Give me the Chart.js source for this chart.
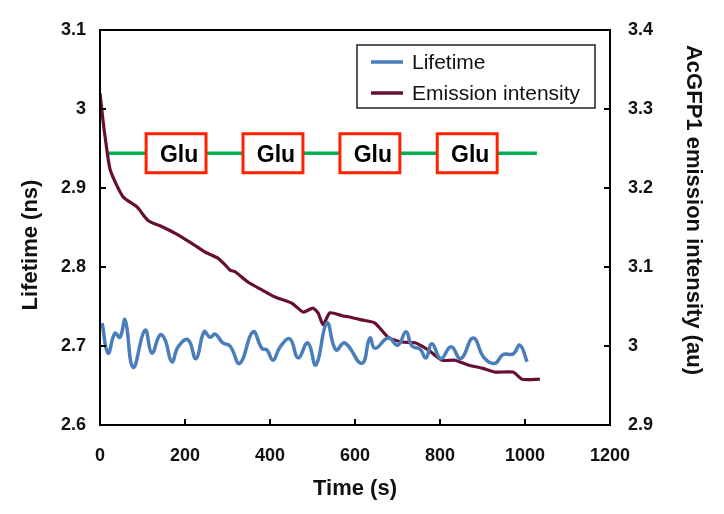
<!DOCTYPE html>
<html>
<head>
<meta charset="utf-8">
<script src="https://cdn.jsdelivr.net/npm/chart.js@4.4.1/dist/chart.umd.min.js"></script>
<style>
  html, body { margin: 0; padding: 0; background: #fff; }
  #wrap { width: 724px; height: 514px; position: relative; }
</style>
</head>
<body>
<div id="wrap"><canvas id="chart" width="724" height="514"></canvas></div>
<script>
// Lifetime (left axis, ns)
const lifetimeTime = [5, 19, 35, 47, 59, 78, 106, 122, 141, 153, 169, 184, 207, 226, 245, 259, 271, 289, 306, 329,
  360, 381, 393, 407, 424, 447, 466, 489, 508, 534, 555, 576, 616, 635, 647, 678, 701, 720, 734, 753,
  767, 781, 802, 826, 849, 878, 904, 929, 948, 972, 988, 1005]
const lifetimeValues = [2.729, 2.691, 2.716, 2.711, 2.733, 2.673, 2.720, 2.691, 2.714, 2.708, 2.680, 2.699, 2.708, 2.684, 2.718, 2.711, 2.715, 2.704, 2.700, 2.678,
  2.718, 2.697, 2.695, 2.682, 2.699, 2.709, 2.685, 2.704, 2.676, 2.729, 2.695, 2.704, 2.678, 2.710, 2.697, 2.710, 2.701, 2.718, 2.700, 2.696,
  2.685, 2.703, 2.684, 2.699, 2.684, 2.710, 2.685, 2.678, 2.689, 2.690, 2.701, 2.680]

// Emission intensity (right axis, au)
const emissionTime = [0, 7, 12, 24, 54, 87, 113, 146, 176, 216, 247, 278, 294, 306, 318, 348, 381, 412, 452, 478,
  501, 513, 525, 541, 572, 584, 616, 647, 678, 711, 741, 772, 805, 835, 866, 899, 929, 972, 993, 1035]
const emissionValues = [3.320, 3.286, 3.265, 3.223, 3.189, 3.176, 3.159, 3.151, 3.143, 3.130, 3.119, 3.111, 3.103, 3.096, 3.094, 3.081, 3.071, 3.062, 3.054, 3.043,
  3.048, 3.042, 3.027, 3.042, 3.038, 3.037, 3.033, 3.029, 3.011, 3.005, 3.004, 2.995, 2.982, 2.982, 2.976, 2.972, 2.967, 2.967, 2.958, 2.958]

// Glucose additions (centre times, s) and the bar they sit on
const gluTimes = [179, 407, 635, 864]
const gluLabel = 'Glu'
const gluLineStart = 21
const gluLineEnd = 1028
const gluLineLevel = 2.944

const xTicks = [0, 200, 400, 600, 800, 1000, 1200]
const leftTicks = [2.6, 2.7, 2.8, 2.9, 3.0, 3.1]
const rightTicks = [2.9, 3.0, 3.1, 3.2, 3.3, 3.4]

const seriesNames = ['Lifetime', 'Emission intensity']
const seriesColors = ['#4a7ebb', '#660e33']
const leftTitle = 'Lifetime (ns)'
const rightTitle = 'AcGFP1 emission intensity (au)'

const toPoints = (xs, ys) => xs.map((x, i) => ({ x: x, y: ys[i] }))
const fmt = v => String(+(+v).toFixed(1))

const FAMILY = 'Liberation Sans, Arial, sans-serif'
const tickFont = { family: FAMILY, size: 18, weight: 'bold' }
const titleFont = { family: FAMILY, size: 22, weight: 'bold' }

// frame, inward ticks, Glu boxes, y titles and legend
const decor = {
  id: 'decor',
  beforeDatasetsDraw(chart) {
    const { ctx, scales } = chart
    const x = scales.x, y = scales.y
    const gy = y.getPixelForValue(gluLineLevel)
    ctx.save()
    ctx.strokeStyle = '#00b050'
    ctx.lineWidth = 3.5
    ctx.beginPath()
    ctx.moveTo(x.getPixelForValue(gluLineStart), gy)
    ctx.lineTo(x.getPixelForValue(gluLineEnd), gy)
    ctx.stroke()
    const bw = x.getPixelForValue(141) - x.getPixelForValue(0)
    const bh = 39
    gluTimes.forEach(t => {
      const cx = x.getPixelForValue(t)
      ctx.fillStyle = '#fff'
      ctx.fillRect(cx - bw / 2, gy - bh / 2, bw, bh)
      ctx.strokeStyle = '#ff2200'
      ctx.lineWidth = 3
      ctx.strokeRect(cx - bw / 2, gy - bh / 2, bw, bh)
      ctx.fillStyle = '#000'
      ctx.font = 'bold 23px ' + FAMILY
      ctx.textAlign = 'center'
      ctx.textBaseline = 'middle'
      ctx.fillText(gluLabel, cx + 3, gy + 2)
    })
    ctx.restore()
  },
  afterDraw(chart) {
    const { ctx, chartArea: a, scales } = chart
    ctx.save()
    ctx.strokeStyle = '#000'
    ctx.lineWidth = 2
    ctx.strokeRect(a.left, a.top, a.right - a.left, a.bottom - a.top)
    ctx.beginPath()
    xTicks.forEach(v => {
      const px = scales.x.getPixelForValue(v)
      ctx.moveTo(px, a.bottom); ctx.lineTo(px, a.bottom - 6)
    })
    leftTicks.forEach(v => {
      const py = scales.y.getPixelForValue(v)
      ctx.moveTo(a.left, py); ctx.lineTo(a.left + 6, py)
    })
    rightTicks.forEach(v => {
      const py = scales.y1.getPixelForValue(v)
      ctx.moveTo(a.right, py); ctx.lineTo(a.right - 6, py)
    })
    ctx.stroke()

    // vertical axis titles
    ctx.fillStyle = '#111'
    ctx.font = 'bold 22px ' + FAMILY
    ctx.textAlign = 'center'
    ctx.textBaseline = 'middle'
    ctx.save()
    ctx.translate(31, 245)
    ctx.rotate(-Math.PI / 2)
    ctx.fillText(leftTitle, 0, 0)
    ctx.restore()
    ctx.save()
    ctx.translate(693, 210)
    ctx.rotate(Math.PI / 2)
    ctx.fillText(rightTitle, 0, 0)
    ctx.restore()

    // legend box
    const lx = a.right - 253, ly = a.top + 15, lw = 238, lh = 63
    ctx.fillStyle = '#fff'
    ctx.fillRect(lx, ly, lw, lh)
    ctx.strokeStyle = '#222'
    ctx.lineWidth = 1.5
    ctx.strokeRect(lx, ly, lw, lh)
    ctx.font = '21px ' + FAMILY
    ctx.textAlign = 'left'
    ctx.textBaseline = 'middle'
    seriesNames.forEach((name, i) => {
      const yy = ly + 17 + i * 31
      ctx.strokeStyle = seriesColors[i]
      ctx.lineWidth = 3.5
      ctx.beginPath()
      ctx.moveTo(lx + 14, yy); ctx.lineTo(lx + 46, yy)
      ctx.stroke()
      ctx.fillStyle = '#111'
      ctx.fillText(name, lx + 55, yy + 1)
    })
    ctx.restore()
  }
}

new Chart(document.getElementById('chart'), {
  type: 'line',
  data: {
    datasets: [
      {
        label: seriesNames[0],
        data: toPoints(lifetimeTime, lifetimeValues),
        borderColor: seriesColors[0],
        borderWidth: 3.5,
        pointRadius: 0,
        tension: 0.45,
        yAxisID: 'y'
      },
      {
        label: seriesNames[1],
        data: toPoints(emissionTime, emissionValues),
        borderColor: seriesColors[1],
        borderWidth: 3.2,
        pointRadius: 0,
        tension: 0.2,
        yAxisID: 'y1'
      }
    ]
  },
  options: {
    responsive: false,
    animation: false,
    layout: { padding: { top: 30, left: 0, right: 0, bottom: 0 } },
    plugins: { legend: { display: false }, tooltip: { enabled: false } },
    scales: {
      x: {
        type: 'linear',
        min: 0, max: 1200,
        afterBuildTicks: s => { s.ticks = xTicks.map(v => ({ value: v })) },
        grid: { display: false, drawTicks: false },
        border: { display: false },
        ticks: { color: '#111', font: tickFont, padding: 20, maxRotation: 0, callback: v => String(v) },
        title: { display: true, text: 'Time (s)', color: '#111', font: titleFont, padding: { top: 0, bottom: 12 } },
        afterFit: s => { s.height = 89 }
      },
      y: {
        position: 'left',
        min: 2.6, max: 3.1,
        afterBuildTicks: s => { s.ticks = leftTicks.map(v => ({ value: v })) },
        grid: { display: false, drawTicks: false },
        border: { display: false },
        ticks: { color: '#111', font: tickFont, padding: 14, callback: fmt },
        afterFit: s => { s.width = 100 }
      },
      y1: {
        position: 'right',
        min: 2.9, max: 3.4,
        afterBuildTicks: s => { s.ticks = rightTicks.map(v => ({ value: v })) },
        grid: { display: false, drawTicks: false },
        border: { display: false },
        ticks: { color: '#111', font: tickFont, padding: 18, callback: fmt },
        afterFit: s => { s.width = 114 }
      }
    }
  },
  plugins: [decor]
})
</script>
</body>
</html>
